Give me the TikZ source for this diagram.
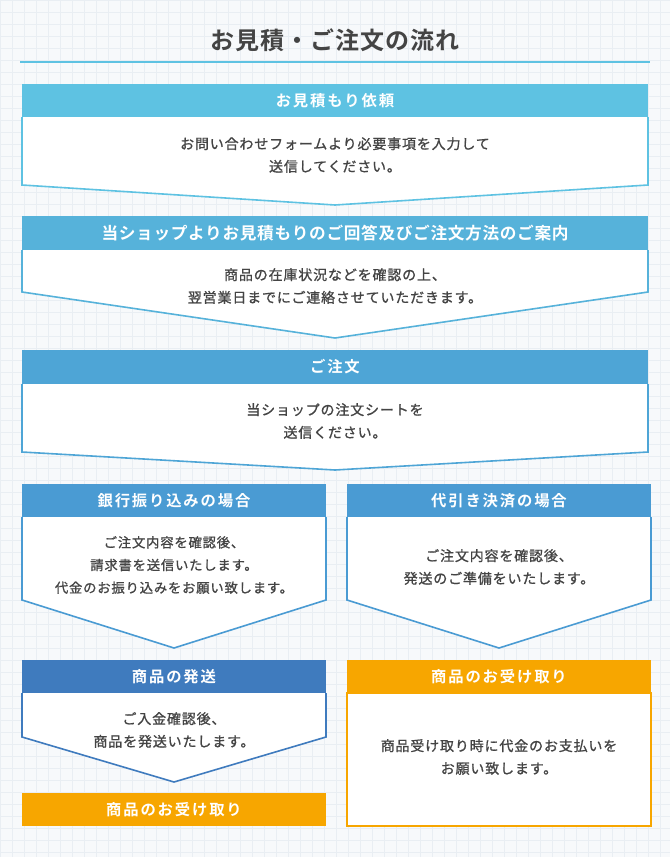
\documentclass[tikz,border=0pt]{standalone}
\usepackage{fontspec}
\newfontfamily\jpfont[LetterSpace=6,FakeBold=1]{Noto Sans CJK JP}
\newfontfamily\jpbold[LetterSpace=12]{Noto Sans CJK JP Bold}
\newfontfamily\jptitle[LetterSpace=4]{Noto Sans CJK JP Bold}
\definecolor{bgc}{HTML}{F7F9FB}
\definecolor{gridc}{HTML}{E9EEF3}
\definecolor{txt}{HTML}{444444}
\definecolor{cA}{HTML}{5EC2E2}
\definecolor{cB}{HTML}{56B2DA}
\definecolor{cC}{HTML}{4EA5D6}
\definecolor{cD}{HTML}{4A9BD3}
\definecolor{cE}{HTML}{3F7BBE}
\definecolor{cO}{HTML}{F7A600}
\begin{document}
\begin{tikzpicture}[x=0.75pt,y=-0.75pt,
  head/.style={font=\jpbold\fontsize{11.5}{13}\selectfont,text=white},
  body/.style={font=\jpfont\fontsize{10.5}{17}\selectfont,text=txt,align=center}]
\useasboundingbox (0,0) rectangle (670,857);
\fill[bgc] (0,0) rectangle (670,857);
\foreach \i in {0,12,...,670} \draw[gridc,line width=0.5pt] (\i,0) -- (\i,857);
\foreach \j in {0,12,...,857} \draw[gridc,line width=0.5pt] (0,\j) -- (670,\j);
% title
\node[font=\jptitle\fontsize{18}{20}\selectfont,text=txt] (title) at (335,40) {お見積・ご注文の流れ};
\draw[cA,line width=1pt] (20,62) -- (650,62);
% step 1
\filldraw[cA,fill=white,line width=1.2pt] (22,117) -- (22,185) -- (335,205) -- (648,185) -- (648,117);
\fill[cA] (22,84) rectangle (648,117);
\node[head] (h1) at (335,100.5) {お見積もり依頼};
\node[body] (b1) at (335,155) {お問い合わせフォームより必要事項を入力して\\送信してください。};
% step 2
\filldraw[cB,fill=white,line width=1.2pt] (22,250) -- (22,292) -- (335,338) -- (648,292) -- (648,250);
\fill[cB] (22,216) rectangle (648,250);
\node[head,font=\jptitle\fontsize{12.5}{14}\selectfont] (h2) at (335,233) {当ショップよりお見積もりのご回答及びご注文方法のご案内};
\node[body] (b2) at (335,286) {商品の在庫状況などを確認の上、\\翌営業日までにご連絡させていただきます。};
% step 3
\filldraw[cC,fill=white,line width=1.2pt] (22,384) -- (22,452) -- (335,470) -- (648,452) -- (648,384);
\fill[cC] (22,350) rectangle (648,384);
\node[head] (h3) at (335,367) {ご注文};
\node[body] (b3) at (335,421) {当ショップの注文シートを\\送信ください。};
% step 4 left
\filldraw[cD,fill=white,line width=1.2pt] (22,517) -- (22,600) -- (174,648) -- (326,600) -- (326,517);
\fill[cD] (22,484) rectangle (326,517);
\node[head] (h4) at (174,500.5) {銀行振り込みの場合};
\node[body,font=\jpfont\fontsize{10}{17}\selectfont] (b4) at (174,565) {ご注文内容を確認後、\\請求書を送信いたします。\\代金のお振り込みをお願い致します。};
% step 4 right
\filldraw[cD,fill=white,line width=1.2pt] (347,517) -- (347,600) -- (499,648) -- (651,600) -- (651,517);
\fill[cD] (347,484) rectangle (651,517);
\node[head] (h5) at (499,500.5) {代引き決済の場合};
\node[body] (b5) at (499,567) {ご注文内容を確認後、\\発送のご準備をいたします。};
% step 5 left
\filldraw[cE,fill=white,line width=1.2pt] (22,693) -- (22,737) -- (174,782) -- (326,737) -- (326,693);
\fill[cE] (22,660) rectangle (326,693);
\node[head] (h6) at (174,676.5) {商品の発送};
\node[body] (b6) at (174,730) {ご入金確認後、\\商品を発送いたします。};
\fill[cO] (22,793) rectangle (326,826);
\node[head] (h7) at (174,809.5) {商品のお受け取り};
% step 5 right
\filldraw[cO,fill=white,line width=1.2pt] (347,693) rectangle (651,826);
\fill[cO] (347,660) rectangle (651,693);
\node[head] (h8) at (499,676.5) {商品のお受け取り};
\node[body] (b8) at (499,757) {商品受け取り時に代金のお支払いを\\お願い致します。};
\end{tikzpicture}
\end{document}
